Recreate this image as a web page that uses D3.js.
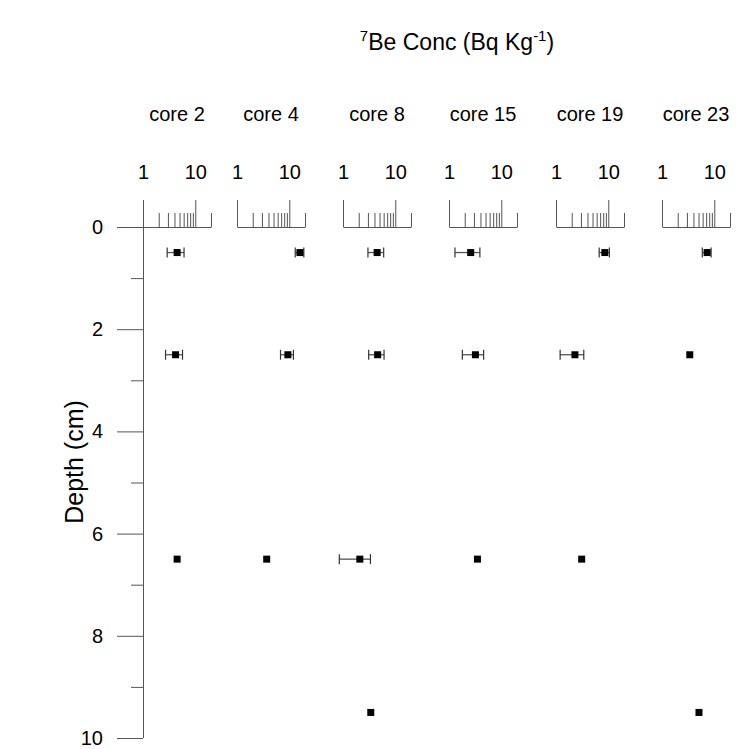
<!DOCTYPE html>
<html>
<head>
<meta charset="utf-8">
<script src="https://cdn.jsdelivr.net/npm/d3@7"></script>
<style>
  body { margin: 0; background: #fff; }
  svg text { font-family: Arial, "Liberation Sans", sans-serif; fill: #000; }
</style>
</head>
<body>
<div class="chart"></div>
<script>
// frame
let FRAME_WIDTH = 741;
let FRAME_HEIGHT = 749;

// data
const cores = ["core 2", "core 4", "core 8", "core 15", "core 19", "core 23"];
const depths = [0.5, 2.5, 6.5, 9.5];
// 7Be concentration per core, one value per depth (null = no sample)
const concCore2  = [4.5, 4.2, 4.5, null];
const concCore4  = [16, 9.4, 3.7, null];
const concCore8  = [4.5, 4.6, 2.1, 3.4];
const concCore15 = [2.6, 3.2, 3.5, null];
const concCore19 = [8.6, 2.3, 3.1, null];
const concCore23 = [7.3, 3.4, null, 5.1];
// +/- error, same order
const errCore2  = [1.6, 1.5, 0, null];
const errCore4  = [3, 2.6, 0, null];
const errCore8  = [1.5, 1.5, 1.25, 0];
const errCore15 = [1.3, 1.4, 0, null];
const errCore19 = [1.9, 1.1, 0, null];
const errCore23 = [1.4, 0, null, 0];
const depthTicks = [0, 2, 4, 6, 8, 10];
const depthMinor = [1, 3, 5, 7, 9];
const concTicks = [1, 10];
const concMinor = [2, 3, 4, 5, 6, 7, 8, 9, 20];

const concs = [concCore2, concCore4, concCore8, concCore15, concCore19, concCore23];
const errs = [errCore2, errCore4, errCore8, errCore15, errCore19, errCore23];

// layout
const PANEL_LEFT = [143, 237, 343, 449, 556, 662];
const PANEL_W = 68;
const Y_TOP = 227, Y_BOT = 738;
const LINE = "#555";

let svg = d3.select(".chart")
  .append("svg")
  .attr("width", FRAME_WIDTH)
  .attr("height", FRAME_HEIGHT);

// depth scale (shared)
const yScale = d3.scaleLinear().domain([0, 10]).range([Y_TOP, Y_BOT]);

// y axis
let yAxisG = svg.append("g").attr("transform", "translate(143,0)");
yAxisG.call(d3.axisLeft(yScale).tickValues(depthTicks).tickSize(26).tickPadding(14).tickSizeOuter(0))
  .attr("font-size", "20px");
yAxisG.select(".domain").remove();
yAxisG.selectAll("line").attr("stroke", LINE);
yAxisG.selectAll("text").attr("font-family", "Arial, 'Liberation Sans', sans-serif").attr("fill", "#000");

let yMinorG = svg.append("g").attr("transform", "translate(143,0)");
yMinorG.call(d3.axisLeft(yScale).tickValues(depthMinor).tickSize(12).tickFormat(""));
yMinorG.select(".domain").remove();
yMinorG.selectAll("line").attr("stroke", LINE);

// vertical axis line runs up to the top of the first panel's ticks
svg.append("line")
  .attr("x1", 143.5).attr("x2", 143.5)
  .attr("y1", Y_TOP - 27).attr("y2", yScale(10))
  .attr("stroke", LINE);

svg.append("text")
  .attr("transform", "translate(83," + 462 + ") rotate(-90)")
  .attr("text-anchor", "middle")
  .attr("font-size", "25px")
  .text("Depth (cm)");

// title
let title = svg.append("text")
  .attr("x", 457).attr("y", 50)
  .attr("text-anchor", "middle")
  .attr("font-size", "23px");
title.append("tspan").attr("font-size", "15px").attr("dy", "-9").text("7");
title.append("tspan").attr("dy", "9").text("Be Conc (Bq Kg");
title.append("tspan").attr("font-size", "15px").attr("dy", "-9").text("-1");
title.append("tspan").attr("dy", "9").text(")");

// one panel per core
cores.forEach(function(core, i) {
  let left = PANEL_LEFT[i];
  let xScale = d3.scaleLog().domain([1, 20]).range([left, left + PANEL_W]);

  let g = svg.append("g").attr("class", "panel");

  // core name
  g.append("text")
    .attr("x", left + PANEL_W / 2).attr("y", 121)
    .attr("text-anchor", "middle")
    .attr("font-size", "20px")
    .text(core);

  // major ticks with labels
  let axG = g.append("g").attr("transform", "translate(0," + Y_TOP + ")");
  axG.call(d3.axisTop(xScale).tickValues(concTicks).tickSize(27).tickPadding(21)
      .tickSizeOuter(0).tickFormat(d3.format("d")))
    .attr("font-size", "20px");
  axG.select(".domain").attr("stroke", LINE);
  axG.selectAll("line").attr("stroke", LINE);
  axG.selectAll("text").attr("font-family", "Arial, 'Liberation Sans', sans-serif").attr("fill", "#000");

  // minor ticks
  let mG = g.append("g").attr("transform", "translate(0," + Y_TOP + ")");
  mG.call(d3.axisTop(xScale).tickValues(concMinor).tickSize(14).tickFormat(""));
  mG.select(".domain").remove();
  mG.selectAll("line").attr("stroke", LINE);

  // points
  let pts = depths.map(function(d, j) {
    return {depth: d, conc: concs[i][j], err: errs[i][j]};
  }).filter(function(d) { return d.conc !== null; });

  let bars = pts.filter(function(d) { return d.err > 0; });

  g.selectAll(".ebar")
    .data(bars).enter().append("line")
    .attr("class", "ebar")
    .attr("x1", function(d) { return xScale(d.conc - d.err); })
    .attr("x2", function(d) { return xScale(d.conc + d.err); })
    .attr("y1", function(d) { return yScale(d.depth); })
    .attr("y2", function(d) { return yScale(d.depth); })
    .attr("stroke", "#555").attr("stroke-width", 1.3);

  ["lo", "hi"].forEach(function(side) {
    g.selectAll(".cap-" + side)
      .data(bars).enter().append("line")
      .attr("class", "cap-" + side)
      .attr("x1", function(d) { return xScale(side == "lo" ? d.conc - d.err : d.conc + d.err); })
      .attr("x2", function(d) { return xScale(side == "lo" ? d.conc - d.err : d.conc + d.err); })
      .attr("y1", function(d) { return yScale(d.depth) - 5; })
      .attr("y2", function(d) { return yScale(d.depth) + 5; })
      .attr("stroke", "#333").attr("stroke-width", 1.2);
  });

  g.selectAll(".pt")
    .data(pts).enter().append("rect")
    .attr("class", "pt")
    .attr("x", function(d) { return xScale(d.conc) - 3.5; })
    .attr("y", function(d) { return yScale(d.depth) - 3.5; })
    .attr("width", 7).attr("height", 7)
    .attr("fill", "#000");
});
</script>
</body>
</html>
